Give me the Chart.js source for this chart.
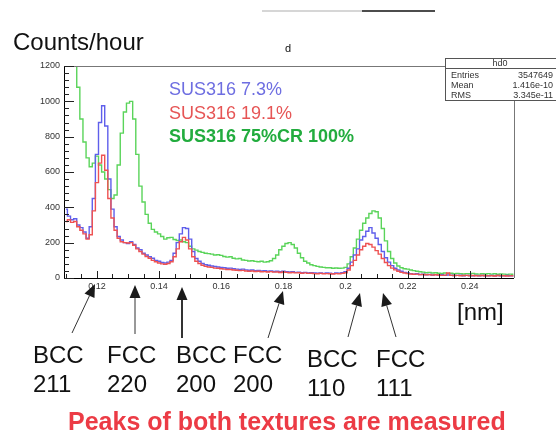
<!DOCTYPE html>
<html>
<head>
<meta charset="utf-8">
<script src="https://cdn.jsdelivr.net/npm/chart.js@4.4.1/dist/chart.umd.min.js"></script>
<style>
  html, body { margin: 0; padding: 0; background: #fff; }
  canvas { display: block; }
</style>
</head>
<body>
<canvas id="myChart" width="556" height="433"></canvas>
<script>
// histogram bins (d in nm)
let binStart = 0.110
let binWidth = 0.001
let xTicks = [0.12, 0.14, 0.16, 0.18, 0.2, 0.22, 0.24]

// counts/hour, one value per bin
let sus73 = [
    390, 350, 330, 335, 300, 285, 260, 225, 290, 450,
    700, 880, 975, 860, 560, 390, 290, 235, 215, 200,
    195, 205, 190, 170, 160, 140, 130, 120, 112, 100,
    95, 88, 85, 90, 100, 140, 200, 250, 285, 280,
    220, 150, 110, 95, 82, 75, 72, 68, 65, 62,
    60, 58, 55, 56, 52, 50, 48, 50, 46, 44,
    45, 42, 43, 40, 41, 38, 40, 37, 38, 35,
    38, 36, 34, 35, 32, 33, 30, 32, 28, 30,
    28, 27, 29, 26, 28, 27, 25, 28, 27, 30,
    35, 55, 90, 130, 165, 215, 235, 265, 285, 255,
    225, 190, 150, 115, 90, 70, 55, 45, 38, 32,
    28, 25, 22, 24, 20, 21, 18, 20, 17, 19,
    16, 18, 15, 17, 16, 14, 15, 16, 13, 15,
    14, 12, 15, 13, 14, 12, 13, 15, 12, 14,
    13, 12, 14, 13, 12
]
let sus191 = [
    320, 330, 315, 320, 290, 270, 250, 220, 245, 380,
    540, 650, 695, 610, 450, 340, 270, 225, 205, 200,
    198, 200, 185, 165, 150, 135, 122, 112, 100, 92,
    85, 80, 78, 82, 92, 120, 165, 205, 230, 215,
    165, 120, 95, 82, 72, 66, 62, 60, 56, 55,
    52, 50, 48, 48, 45, 44, 42, 43, 40, 38,
    40, 37, 38, 35, 36, 34, 36, 33, 34, 31,
    34, 32, 30, 31, 29, 30, 27, 29, 26, 27,
    25, 24, 26, 24, 25, 24, 23, 25, 24, 26,
    30, 45, 70, 100, 130, 160, 180, 195, 190, 175,
    155, 135, 110, 88, 70, 56, 46, 38, 32, 28,
    25, 23, 21, 22, 19, 20, 18, 19, 16, 18,
    17, 15, 16, 28, 15, 14, 15, 13, 14, 15,
    12, 14, 13, 12, 14, 13, 12, 13, 11, 14,
    12, 13, 11, 12, 13
]
let sus75cr = [
    1300, 1300, 1300, 1250, 1080, 900, 770, 680, 630, 650,
    690, 640, 600, 560, 500, 450, 470, 640, 820, 940,
    990, 1000, 900, 700, 520, 430, 360, 310, 275, 260,
    250, 235, 220, 228, 230, 218, 212, 215, 205, 200,
    180, 165, 158, 150, 145, 140, 138, 135, 130, 132,
    128, 122, 118, 120, 112, 108, 110, 102, 100, 96,
    98, 94, 92, 95, 90, 92, 98, 110, 130, 160,
    180, 195, 200, 190, 170, 140, 115, 95, 85, 75,
    70, 66, 62, 60, 58, 58, 55, 57, 55, 56,
    60, 80, 120, 170, 220, 270, 310, 340, 365, 380,
    375, 340, 280, 210, 150, 110, 85, 68, 58, 52,
    50, 45, 42, 38, 35, 33, 30, 32, 28, 30,
    27, 26, 28, 25, 27, 24, 26, 25, 23, 25,
    24, 26, 23, 22, 24, 23, 25, 22, 24, 21,
    23, 22, 20, 22, 21
]

function toPoints(arr) {
    return arr.map((v, i) => ({x: binStart + i * binWidth, y: v}))
}

// arrows: tail -> tip, and the peak labels under them
let arrows = [
    [72, 333, 95, 284, 1],
    [135, 334, 135, 285, 1],
    [182, 338, 182, 287, 2],
    [268, 338, 283, 291, 1],
    [348, 337, 360, 293, 1],
    [396, 337, 383, 293, 1]
]
let notes = [
    ['BCC', '211', 33, 363],
    ['FCC', '220', 107, 363],
    ['BCC', '200', 176, 363],
    ['FCC', '200', 233, 363],
    ['BCC', '110', 307, 367],
    ['FCC', '111', 376, 367]
]

const decor = {
    id: 'decor',
    afterDraw(chart) {
        const ctx = chart.ctx
        const a = chart.chartArea
        const xs = chart.scales.x
        const ys = chart.scales.y
        ctx.save()

        // frame
        ctx.lineWidth = 1
        ctx.strokeStyle = '#777'
        ctx.beginPath()
        ctx.moveTo(a.left, a.top + 0.5)
        ctx.lineTo(a.right + 0.5, a.top + 0.5)
        ctx.lineTo(a.right + 0.5, a.bottom)
        ctx.stroke()
        ctx.strokeStyle = '#000'
        ctx.beginPath()
        ctx.moveTo(a.left + 0.5, a.top)
        ctx.lineTo(a.left + 0.5, a.bottom + 0.5)
        ctx.lineTo(a.right, a.bottom + 0.5)
        ctx.stroke()

        // ROOT style inner ticks
        ctx.strokeStyle = '#222'
        ctx.beginPath()
        for (let v = 0; v <= 1200; v += 40) {
            const py = Math.round(ys.getPixelForValue(v)) + 0.5
            const len = v % 200 === 0 ? 10 : 5
            ctx.moveTo(a.left, py)
            ctx.lineTo(a.left + len, py)
        }
        for (let k = 22; k <= 50; k++) {
            const px = Math.round(xs.getPixelForValue(k * 0.005)) + 0.5
            if (px < a.left || px > a.right) continue
            const len = k % 4 === 0 ? 7 : 4
            ctx.moveTo(px, a.bottom)
            ctx.lineTo(px, a.bottom - len)
        }
        ctx.stroke()

        // stats box
        ctx.fillStyle = '#fff'
        ctx.fillRect(445, 58, 115, 42)
        ctx.strokeStyle = '#555'
        ctx.strokeRect(445.5, 58.5, 115, 42)
        ctx.beginPath()
        ctx.moveTo(445, 68.5)
        ctx.lineTo(556, 68.5)
        ctx.stroke()
        ctx.fillStyle = '#333'
        ctx.font = '9px "Liberation Sans", Arial, sans-serif'
        ctx.textBaseline = 'alphabetic'
        ctx.textAlign = 'center'
        ctx.fillText('hd0', 500, 66)
        ctx.textAlign = 'left'
        ctx.fillText('Entries', 451, 78)
        ctx.fillText('Mean', 451, 88)
        ctx.fillText('RMS', 451, 98)
        ctx.textAlign = 'right'
        ctx.fillText('3547649', 553, 78)
        ctx.fillText('1.416e-10', 553, 88)
        ctx.fillText('3.345e-11', 553, 98)

        // titles
        ctx.textAlign = 'left'
        ctx.fillStyle = '#111'
        ctx.font = '24px "Liberation Sans", Arial, sans-serif'
        ctx.fillText('Counts/hour', 13, 50)
        ctx.font = '11px "Liberation Sans", Arial, sans-serif'
        ctx.fillText('d', 285, 52)
        ctx.lineWidth = 1.5
        ctx.strokeStyle = '#c8c8c8'
        ctx.beginPath()
        ctx.moveTo(262, 11)
        ctx.lineTo(362, 11)
        ctx.stroke()
        ctx.strokeStyle = '#111'
        ctx.beginPath()
        ctx.moveTo(362, 11)
        ctx.lineTo(435, 11)
        ctx.stroke()

        // legend text
        const legendY = [95, 119, 142]
        chart.data.datasets.slice().sort((p, q) => p.row - q.row).forEach((ds, i) => {
            ctx.fillStyle = ds.textColor
            ctx.font = (ds.row === 2 ? 'bold ' : '') + '18px "Liberation Sans", Arial, sans-serif'
            ctx.fillText(ds.label, 169, legendY[i])
        })

        // arrows
        ctx.fillStyle = '#1a1a1a'
        ctx.strokeStyle = '#333'
        arrows.forEach(([x0, y0, x1, y1, w]) => {
            const ang = Math.atan2(y1 - y0, x1 - x0)
            const hl = 13, hw = 5.5
            const bx = x1 - hl * Math.cos(ang), by = y1 - hl * Math.sin(ang)
            ctx.lineWidth = w
            ctx.beginPath()
            ctx.moveTo(x0, y0)
            ctx.lineTo(bx, by)
            ctx.stroke()
            ctx.beginPath()
            ctx.moveTo(x1, y1)
            ctx.lineTo(bx + hw * Math.sin(ang), by - hw * Math.cos(ang))
            ctx.lineTo(bx - hw * Math.sin(ang), by + hw * Math.cos(ang))
            ctx.closePath()
            ctx.fill()
        })

        ctx.fillStyle = '#111'
        ctx.font = '24px "Liberation Sans", Arial, sans-serif'
        notes.forEach(([t1, t2, nx, ny]) => {
            ctx.fillText(t1, nx, ny)
            ctx.fillText(t2, nx, ny + 29)
        })
        ctx.fillText('[nm]', 457, 320)

        ctx.fillStyle = '#ec3b45'
        ctx.font = 'bold 25px "Liberation Sans", Arial, sans-serif'
        ctx.fillText('Peaks of both textures are measured', 68, 430)

        ctx.restore()
    }
}

let data = {
    datasets: [{
        label: 'SUS316 75%CR 100%',
        data: toPoints(sus75cr),
        borderColor: 'rgb(90, 212, 90)',
        textColor: 'rgb(34, 172, 62)',
        row: 2,
        order: 3
    }, {
        label: 'SUS316 7.3%',
        data: toPoints(sus73),
        borderColor: 'rgb(95, 95, 235)',
        textColor: 'rgb(110, 110, 225)',
        row: 0,
        order: 2
    }, {
        label: 'SUS316 19.1%',
        data: toPoints(sus191),
        borderColor: 'rgb(238, 82, 82)',
        textColor: 'rgb(230, 85, 85)',
        row: 1,
        order: 1
    }]
}
data.datasets.forEach(ds => {
    ds.stepped = 'middle'
    ds.borderWidth = 1.4
    ds.pointRadius = 0
    ds.fill = false
})

let tickFont = {family: '"Liberation Sans", Arial, sans-serif', size: 9}
let options = {
    responsive: false,
    devicePixelRatio: 1,
    animation: false,
    layout: {padding: {left: 0, top: 66, right: 42, bottom: 0}},
    plugins: {legend: {display: false}, tooltip: {enabled: false}},
    scales: {
        x: {
            type: 'linear',
            min: 0.1094,
            max: 0.2542,
            grid: {display: false, drawTicks: false},
            border: {display: false},
            afterBuildTicks: s => { s.ticks = xTicks.map(v => ({value: v})) },
            afterFit: s => { s.height = 155 },
            ticks: {
                padding: 3,
                maxRotation: 0,
                autoSkip: false,
                color: '#333',
                font: tickFont,
                callback: v => String(Number(v.toFixed(2)))
            }
        },
        y: {
            min: 0,
            max: 1200,
            grid: {display: false, drawTicks: false},
            border: {display: false},
            afterFit: s => { s.width = 64 },
            ticks: {
                stepSize: 200,
                padding: 4,
                color: '#333',
                font: tickFont,
                callback: v => String(v)
            }
        }
    }
}

const ctx = document.getElementById('myChart')
let myChart = new Chart(ctx, {type: 'line', data: data, options: options, plugins: [decor]})
</script>
</body>
</html>
